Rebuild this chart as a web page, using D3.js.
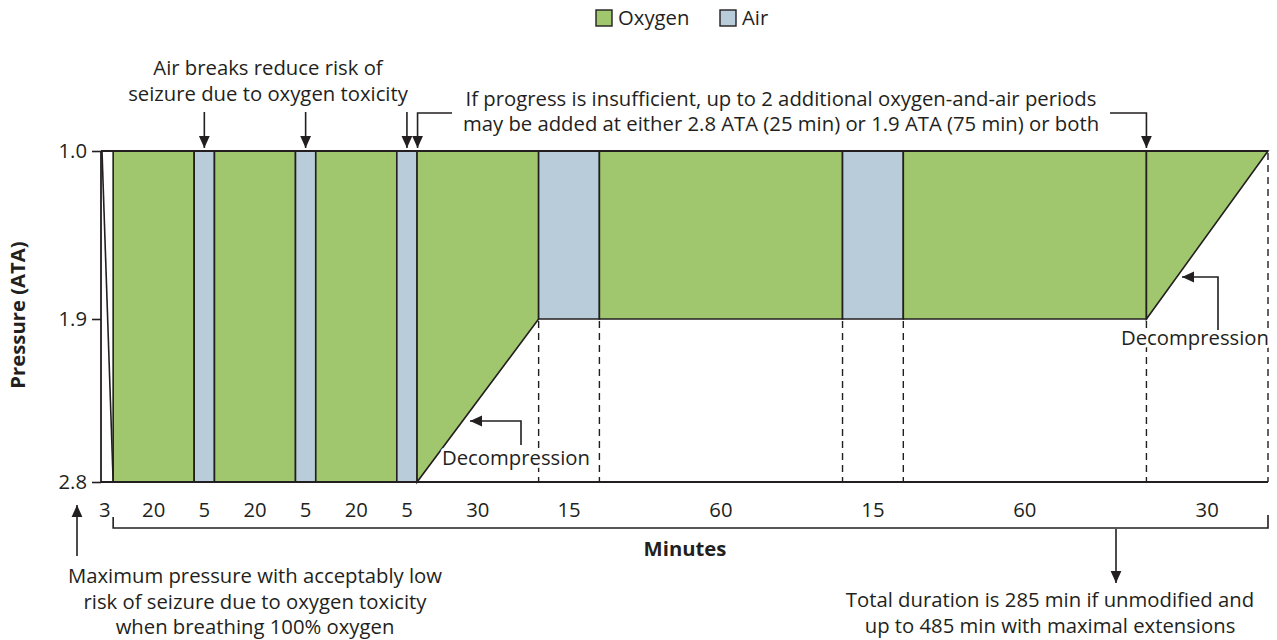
<!DOCTYPE html>
<html>
<head>
<meta charset="utf-8">
<script src="https://cdn.jsdelivr.net/npm/d3@7"></script>
<style>
  html, body { margin: 0; padding: 0; background: #fff; }
  svg { display: block; }
  text { font-family: "Open Sans", Lato, sans-serif; fill: #231f20; }
</style>
</head>
<body>
<svg id="chart" width="1277" height="640"></svg>
<script>
// ---- data ----
const durations = [3, 20, 5, 20, 5, 20, 5, 30, 15, 60, 15, 60, 30];
const gases = ["compression", "oxygen", "air", "oxygen", "air", "oxygen", "air", "oxygen", "air", "oxygen", "air", "oxygen", "oxygen"];
const startPressure = [1.0, 2.8, 2.8, 2.8, 2.8, 2.8, 2.8, 2.8, 1.9, 1.9, 1.9, 1.9, 1.9];
const endPressure   = [2.8, 2.8, 2.8, 2.8, 2.8, 2.8, 2.8, 1.9, 1.9, 1.9, 1.9, 1.9, 1.0];
const yTicks = [1.0, 1.9, 2.8];
const yTickLabels = ["1.0", "1.9", "2.8"];
const legendKeys = ["Oxygen", "Air"];

const colors = { oxygen: "#a0c76e", air: "#b8cdd9" };
const ink = "#231f20";
const FS = "20.3px";

// ---- scales ----
const totalMin = d3.sum(durations);
const x = d3.scaleLinear().domain([0, totalMin]).range([101, 1268]);
const y = d3.scaleLinear().domain(yTicks).range([151, 319, 482]);

const svg = d3.select("#chart");

// cumulative start times
const starts = [];
let acc = 0;
durations.forEach(d => { starts.push(acc); acc += d; });
const segs = durations.map((d, i) => ({
  t0: starts[i], t1: starts[i] + d, dur: d, gas: gases[i],
  p0: startPressure[i], p1: endPressure[i]
}));

// ---- dashed drop lines (where profile is above 2.8) ----
const dropTimes = [];
segs.forEach((s, i) => {
  if (s.p1 < 2.8 && i > 0) dropTimes.push({ t: s.t1, p: s.p1 });
});
svg.append("g").selectAll("line").data(dropTimes).join("line")
  .attr("x1", d => x(d.t)).attr("x2", d => x(d.t))
  .attr("y1", d => y(d.p) + 2).attr("y2", y(2.8))
  .attr("stroke", ink).attr("stroke-width", 1.4)
  .attr("stroke-dasharray", "7,5");

// ---- filled segments ----
const areaPts = s => [
  [x(s.t0), y(1.0)], [x(s.t1), y(1.0)], [x(s.t1), y(s.p1)], [x(s.t0), y(s.p0)]
];
const segG = svg.append("g");
segG.selectAll("path").data(segs.filter(s => s.gas !== "compression")).join("path")
  .attr("d", s => "M" + areaPts(s).join("L") + "Z")
  .attr("fill", s => colors[s.gas])
  .attr("stroke", ink).attr("stroke-width", 1.6)
  .attr("stroke-linejoin", "miter");

// compression line
const comp = segs[0];
svg.append("line")
  .attr("x1", x(comp.t0) + 1).attr("y1", y(comp.p0))
  .attr("x2", x(comp.t1)).attr("y2", y(comp.p1))
  .attr("stroke", ink).attr("stroke-width", 1.6);

// top line at 1.0 ATA
svg.append("line")
  .attr("x1", x(0)).attr("x2", x(totalMin))
  .attr("y1", y(1.0)).attr("y2", y(1.0))
  .attr("stroke", ink).attr("stroke-width", 1.8);

// ---- y axis ----
const yAxis = d3.axisLeft(y).tickValues(yTicks)
  .tickFormat((d, i) => yTickLabels[i]).tickSize(9).tickPadding(5);
const yg = svg.append("g").attr("transform", `translate(${x(0)},0)`).call(yAxis);
yg.select(".domain").attr("stroke", ink).attr("stroke-width", 1.8).attr("d", `M0,${y(1.0)}V${y(2.8)}`);
yg.selectAll(".tick line").attr("stroke", ink).attr("stroke-width", 1.6);
yg.selectAll(".tick text").style("font-family", "'Open Sans', Lato, sans-serif")
  .style("font-size", FS).attr("fill", ink);

// ---- x axis baseline ----
svg.append("line")
  .attr("x1", x(0)).attr("x2", x(totalMin))
  .attr("y1", y(2.8)).attr("y2", y(2.8))
  .attr("stroke", ink).attr("stroke-width", 1.8);

// duration labels
svg.append("g").selectAll("text").data(segs).join("text")
  .attr("x", (s, i) => i === 0 ? x(s.t0) - 2 : x((s.t0 + s.t1) / 2))
  .attr("y", 517)
  .attr("text-anchor", (s, i) => i === 0 ? "start" : "middle")
  .style("font-size", FS)
  .text(s => s.dur);

// bracket under durations
const bx0 = x(segs[1].t0), bx1 = x(totalMin), by = 528;
svg.append("path")
  .attr("d", `M${bx0},${by - 11}V${by}H${bx1}V${by - 13}`)
  .attr("fill", "none").attr("stroke", ink).attr("stroke-width", 1.6);

svg.append("text").attr("x", 685).attr("y", 556).attr("text-anchor", "middle")
  .style("font-size", FS).style("font-weight", "bold").text("Minutes");

// ---- y axis title ----
svg.append("text")
  .attr("transform", `translate(25,${y(1.9) - 4}) rotate(-90)`)
  .attr("text-anchor", "middle")
  .style("font-size", FS).style("font-weight", "bold")
  .text("Pressure (ATA)");

// ---- legend ----
const lg = svg.append("g");
const legX = [596, 720];
legendKeys.forEach((k, i) => {
  lg.append("rect").attr("x", legX[i]).attr("y", 10).attr("width", 16).attr("height", 16)
    .attr("fill", colors[k.toLowerCase()]).attr("stroke", ink).attr("stroke-width", 1.4);
  lg.append("text").attr("x", legX[i] + 22).attr("y", 25)
    .style("font-size", FS).text(k);
});

// ---- arrowhead marker ----
const defs = svg.append("defs");
defs.append("marker").attr("id", "ah")
  .attr("viewBox", "0 0 10 10").attr("refX", 10).attr("refY", 5)
  .attr("markerWidth", 12).attr("markerHeight", 12).attr("markerUnits", "userSpaceOnUse")
  .attr("orient", "auto")
  .append("path").attr("d", "M0,0.5L10,5L0,9.5Z").attr("fill", ink);

function arrow(d) {
  svg.append("path").attr("d", d).attr("fill", "none")
    .attr("stroke", ink).attr("stroke-width", 1.6)
    .attr("marker-end", "url(#ah)");
}
function label(lines, cx, y0, lh, anchor) {
  const t = svg.append("text").attr("text-anchor", anchor || "middle")
    .style("font-size", FS);
  lines.forEach((l, i) => t.append("tspan").attr("x", cx).attr("y", y0 + i * lh).text(l));
  return t;
}

// Air breaks annotation
label(["Air breaks reduce risk of", "seizure due to oxygen toxicity"], 268, 75, 26);
[2, 4, 6].forEach(i => {
  const cx = x((segs[i].t0 + segs[i].t1) / 2);
  arrow(`M${cx},112V148`);
});

// progress annotation
label(["If progress is insufficient, up to 2 additional oxygen-and-air periods",
       "may be added at either 2.8 ATA (25 min) or 1.9 ATA (75 min) or both"], 781, 105.5, 25.8);
const xa = x(segs[7].t0) + 0.5;
arrow(`M452,113H${xa}V148`);
const xb = x(segs[12].t0);
arrow(`M1110,113H${xb}V148`);

// decompression annotations (white halo hides dashed lines behind text)
function decompLabel(cx, yy) {
  svg.append("text").attr("x", cx).attr("y", yy).attr("text-anchor", "middle")
    .style("font-size", FS)
    .attr("stroke", "#fff").attr("stroke-width", 6).attr("paint-order", "stroke")
    .attr("stroke-linejoin", "round")
    .text("Decompression");
}
arrow(`M521,445V421H470`);
decompLabel(516, 465);
arrow(`M1218,330V277H1182`);
decompLabel(1195, 345);

// maximum pressure annotation
arrow(`M77,556V505`);
label(["Maximum pressure with acceptably low",
       "risk of seizure due to oxygen toxicity",
       "when breathing 100% oxygen"], 255, 583, 25.5);

// total duration annotation
arrow(`M1116,529V583`);
label(["Total duration is 285 min if unmodified and",
       "up to 485 min with maximal extensions"], 1050, 607, 25.5);
</script>
</body>
</html>
